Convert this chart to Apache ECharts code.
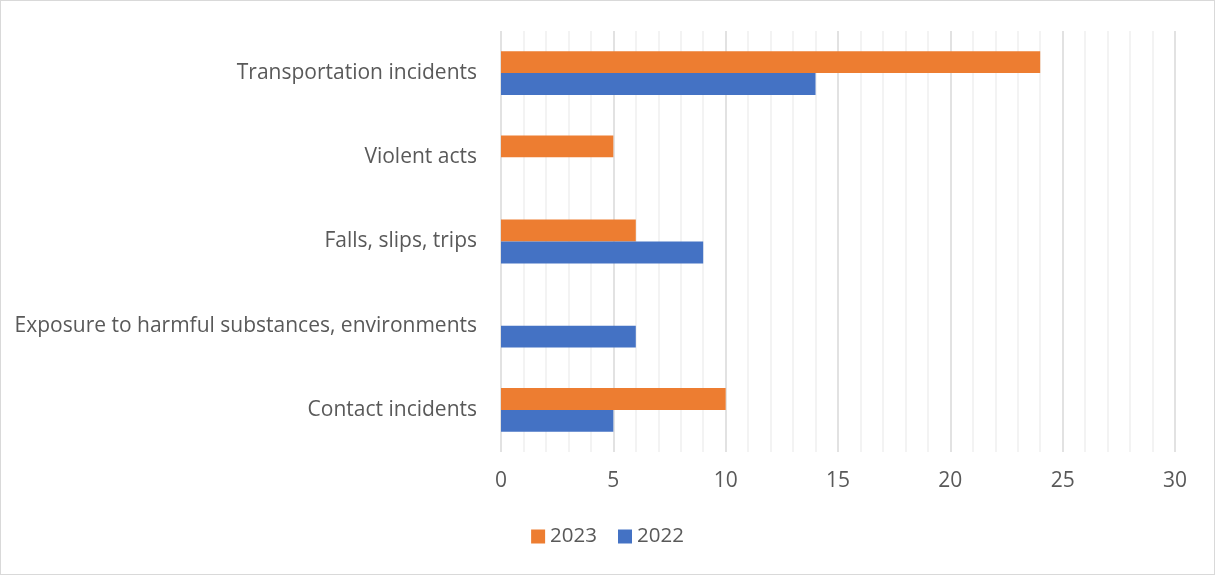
<!DOCTYPE html>
<html>
<head>
<meta charset="utf-8">
<script src="https://cdn.jsdelivr.net/npm/echarts@6/dist/echarts.min.js"></script>
<style>
html,body{margin:0;padding:0;background:#fff;}
#c{width:1215px;height:575px;box-sizing:border-box;border:1px solid #d9d9d9;}
</style>
</head>
<body>
<div id="c"></div>
<script>
const categories = ['Contact incidents', 'Exposure to harmful substances, environments', 'Falls, slips, trips', 'Violent acts', 'Transportation incidents'];
const values2023 = [10, 0, 6, 5, 24];
const values2022 = [5, 6, 9, 0, 14];
const xTicks = [0, 5, 10, 15, 20, 25, 30];

const chart = echarts.init(document.getElementById('c'));
const font = 'Open Sans';
chart.setOption({
  animation: false,
  textStyle: { fontFamily: font },
  legend: {
    data: ['2023', '2022'],
    bottom: 22,
    left: 'center',
    itemWidth: 14,
    itemHeight: 14,
    itemGap: 21,
    textStyle: { fontSize: 20.5, color: '#595959', fontFamily: font },
    icon: 'rect'
  },
  grid: { left: 500, right: 39, top: 30, bottom: 122 },
  xAxis: {
    type: 'value',
    min: xTicks[0],
    max: xTicks[xTicks.length - 1],
    interval: 5,
    axisLine: { show: false },
    axisTick: { show: false },
    axisLabel: { fontSize: 21, color: '#595959', margin: 19, fontFamily: font },
    splitLine: { show: true, lineStyle: { color: '#d9d9d9', width: 1.5 } },
    minorTick: { show: false, splitNumber: 5 },
    minorSplitLine: { show: true, lineStyle: { color: '#f0f0f0', width: 1.5 } }
  },
  yAxis: {
    type: 'category',
    data: categories,
    axisLine: { show: false },
    axisTick: { show: false },
    axisLabel: { fontSize: 21, color: '#595959', margin: 24, fontFamily: font }
  },
  series: [
    {
      name: '2023', type: 'bar', data: values2023,
      itemStyle: { color: '#ED7D31' },
      barCategoryGap: '48%', barGap: '0%'
    },
    {
      name: '2022', type: 'bar', data: values2022,
      itemStyle: { color: '#4472C4' },
      barCategoryGap: '48%', barGap: '0%'
    }
  ]
});
</script>
</body>
</html>
